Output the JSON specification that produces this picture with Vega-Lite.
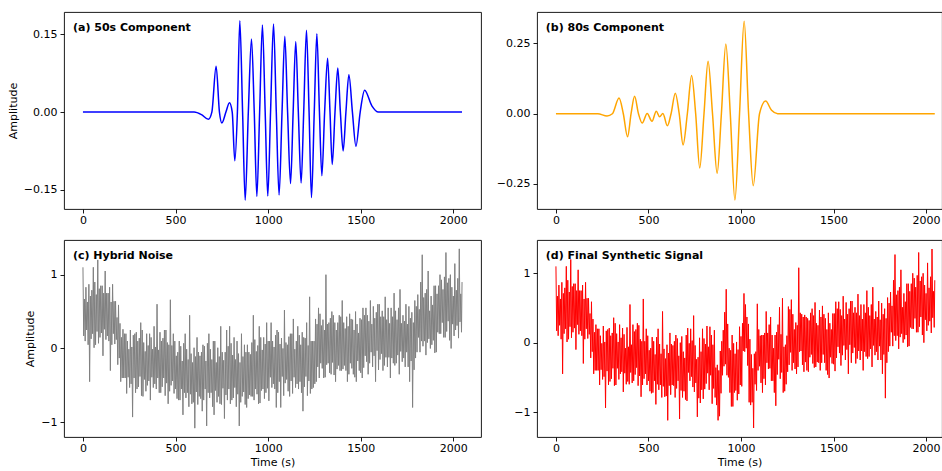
{
"$schema": "https://vega.github.io/schema/vega-lite/v6.json",
"padding": {"left": 6, "top": 11, "right": 0, "bottom": 0},
"background": "white",
"columns": 2,
"spacing": {"row": 13, "column": 13},
"datasets": {
"a": [
{"t":0,"v":0},{"t":600,"v":0},{"t":640,"v":-0.005},{"t":677,"v":-0.014},{"t":696,"v":0},{"t":719,"v":0.0885},{"t":737,"v":0},{"t":750,"v":-0.021},{"t":772,"v":0},{"t":791,"v":0.018},{"t":806,"v":0},{"t":820,"v":-0.094},{"t":834,"v":0},{"t":847,"v":0.176},{"t":862,"v":0},{"t":876,"v":-0.17},{"t":893,"v":0},{"t":910,"v":0.141},{"t":925,"v":0},{"t":939,"v":-0.163},{"t":954,"v":0},{"t":969,"v":0.168},{"t":984,"v":0},{"t":998,"v":-0.162},{"t":1013,"v":0},{"t":1029,"v":0.17},{"t":1044,"v":0},{"t":1059,"v":-0.16},{"t":1075,"v":0},{"t":1090,"v":0.146},{"t":1105,"v":0},{"t":1121,"v":-0.138},{"t":1135,"v":0},{"t":1149,"v":0.136},{"t":1163,"v":0},{"t":1178,"v":-0.137},{"t":1192,"v":0},{"t":1207,"v":0.158},{"t":1221,"v":0},{"t":1234,"v":-0.165},{"t":1249,"v":0},{"t":1263,"v":0.151},{"t":1277,"v":0},{"t":1290,"v":-0.123},{"t":1305,"v":0},{"t":1321,"v":0.104},{"t":1334,"v":0},{"t":1346,"v":-0.101},{"t":1361,"v":0},{"t":1376,"v":0.085},{"t":1390,"v":0},{"t":1405,"v":-0.075},{"t":1420,"v":0},{"t":1436,"v":0.072},{"t":1455,"v":0},{"t":1474,"v":-0.066},{"t":1497,"v":0},{"t":1521,"v":0.042},{"t":1560,"v":0.012},{"t":1595,"v":0},{"t":2047,"v":0}
],
"b": [
{"t":0,"v":0},{"t":226,"v":0},{"t":276,"v":-0.008},{"t":305,"v":0},{"t":341,"v":0.056},{"t":364,"v":0},{"t":387,"v":-0.082},{"t":406,"v":0},{"t":425,"v":0.062},{"t":446,"v":0},{"t":466,"v":-0.033},{"t":493,"v":0.001},{"t":519,"v":-0.027},{"t":542,"v":0.009},{"t":560,"v":-0.011},{"t":578,"v":0.001},{"t":602,"v":-0.043},{"t":622,"v":0},{"t":645,"v":0.073},{"t":666,"v":0},{"t":687,"v":-0.111},{"t":710,"v":0},{"t":733,"v":0.136},{"t":755,"v":0},{"t":777,"v":-0.193},{"t":800,"v":0},{"t":822,"v":0.187},{"t":846,"v":0},{"t":871,"v":-0.212},{"t":894,"v":0},{"t":918,"v":0.248},{"t":942,"v":0},{"t":967,"v":-0.307},{"t":992,"v":0},{"t":1017,"v":0.329},{"t":1041,"v":0},{"t":1066,"v":-0.256},{"t":1100,"v":0},{"t":1133,"v":0.045},{"t":1165,"v":0.012},{"t":1198,"v":0},{"t":2047,"v":0}
],
"noise": [
{"t":0,"c":1.1,"d":1.1},{"t":4,"c":0.17,"d":0.17},{"t":8,"c":0.67,"d":0.67},{"t":12,"c":0.1,"d":0.1},{"t":16,"c":0.83,"d":0.83},{"t":20,"c":0.25,"d":0.25},{"t":24,"c":0.63,"d":0.63},{"t":28,"c":0.05,"d":0.05},
{"t":32,"c":0.87,"d":0.87},{"t":36,"c":-0.45,"d":-0.45},{"t":40,"c":0.71,"d":0.71},{"t":44,"c":0.13,"d":0.13},{"t":48,"c":0.79,"d":0.79},{"t":52,"c":0.2,"d":0.2},{"t":56,"c":1.1,"d":1.1},{"t":60,"c":0.01,"d":0.01},
{"t":64,"c":0.9,"d":0.9},{"t":68,"c":0.05,"d":0.05},{"t":72,"c":0.73,"d":0.73},{"t":76,"c":0.23,"d":0.23},{"t":80,"c":1.2,"d":1.2},{"t":84,"c":0.07,"d":0.07},{"t":88,"c":0.81,"d":0.81},{"t":92,"c":0.15,"d":0.15},
{"t":96,"c":0.85,"d":0.85},{"t":100,"c":0.21,"d":0.21},{"t":104,"c":0.85,"d":0.85},{"t":108,"c":-0.1,"d":-0.1},{"t":112,"c":0.75,"d":0.75},{"t":116,"c":0.26,"d":0.26},{"t":120,"c":1.05,"d":1.05},{"t":124,"c":0.12,"d":0.12},
{"t":128,"c":0.75,"d":0.75},{"t":132,"c":0.17,"d":0.17},{"t":136,"c":0.75,"d":0.75},{"t":140,"c":0.1,"d":0.1},{"t":144,"c":0.83,"d":0.83},{"t":148,"c":-0.3,"d":-0.3},{"t":152,"c":0.63,"d":0.63},{"t":156,"c":0.05,"d":0.05},
{"t":160,"c":0.87,"d":0.87},{"t":164,"c":0.2,"d":0.2},{"t":168,"c":0.64,"d":0.64},{"t":172,"c":0.06,"d":0.06},{"t":176,"c":0.64,"d":0.64},{"t":180,"c":0.12,"d":0.12},{"t":184,"c":0.42,"d":0.42},{"t":188,"c":-0.22,"d":-0.22},
{"t":192,"c":0.59,"d":0.59},{"t":196,"c":-0.13,"d":-0.13},{"t":200,"c":0.34,"d":0.34},{"t":204,"c":-0.45,"d":-0.45},{"t":208,"c":0.15,"d":0.15},{"t":212,"c":-0.4,"d":-0.4},{"t":216,"c":0.26,"d":0.26},{"t":220,"c":-0.4,"d":-0.4},
{"t":224,"c":0.2,"d":0.2},{"t":228,"c":-0.4,"d":-0.4},{"t":232,"c":0.2,"d":0.2},{"t":236,"c":-0.61,"d":-0.61},{"t":240,"c":0.1,"d":0.1},{"t":244,"c":-0.39,"d":-0.39},{"t":248,"c":-0.01,"d":-0.01},{"t":252,"c":-0.53,"d":-0.53},
{"t":256,"c":0.25,"d":0.24},{"t":260,"c":-0.48,"d":-0.49},{"t":264,"c":0.02,"d":0.01},{"t":268,"c":-0.93,"d":-0.94},{"t":272,"c":0.18,"d":0.17},{"t":276,"c":-0.4,"d":-0.41},{"t":280,"c":0.2,"d":0.19},{"t":284,"c":-0.6,"d":-0.61},
{"t":288,"c":0.22,"d":0.21},{"t":292,"c":-0.55,"d":-0.56},{"t":296,"c":0.1,"d":0.1},{"t":300,"c":-0.52,"d":-0.52},{"t":304,"c":0.14,"d":0.14},{"t":308,"c":-0.38,"d":-0.37},{"t":312,"c":0.35,"d":0.36},{"t":316,"c":-0.64,"d":-0.62},
{"t":320,"c":0.25,"d":0.28},{"t":324,"c":-0.65,"d":-0.61},{"t":328,"c":0.08,"d":0.13},{"t":332,"c":-0.42,"d":-0.37},{"t":336,"c":-0.04,"d":0.01},{"t":340,"c":-0.58,"d":-0.53},{"t":344,"c":0.2,"d":0.26},{"t":348,"c":-0.5,"d":-0.45},
{"t":352,"c":0.04,"d":0.07},{"t":356,"c":-0.44,"d":-0.42},{"t":360,"c":0.2,"d":0.21},{"t":364,"c":-0.7,"d":-0.71},{"t":368,"c":0.15,"d":0.12},{"t":372,"c":-0.39,"d":-0.44},{"t":376,"c":-0.01,"d":-0.08},{"t":380,"c":-0.53,"d":-0.6},
{"t":384,"c":0.3,"d":0.22},{"t":388,"c":-0.48,"d":-0.56},{"t":392,"c":0.02,"d":-0.06},{"t":396,"c":-0.55,"d":-0.6},{"t":400,"c":0.6,"d":0.55},{"t":404,"c":-0.4,"d":-0.43},{"t":408,"c":-0.02,"d":-0.03},{"t":412,"c":-0.6,"d":-0.58},
{"t":416,"c":0.22,"d":0.26},{"t":420,"c":-0.6,"d":-0.55},{"t":424,"c":0.1,"d":0.16},{"t":428,"c":-0.52,"d":-0.46},{"t":432,"c":0.14,"d":0.19},{"t":436,"c":-0.4,"d":-0.36},{"t":440,"c":0.25,"d":0.28},{"t":444,"c":-0.64,"d":-0.62},
{"t":448,"c":0.25,"d":0.25},{"t":452,"c":-0.47,"d":-0.48},{"t":456,"c":0.08,"d":0.05},{"t":460,"c":-0.75,"d":-0.78},{"t":464,"c":0.05,"d":0.02},{"t":468,"c":-0.58,"d":-0.61},{"t":472,"c":0.66,"d":0.63},{"t":476,"c":-0.5,"d":-0.52},
{"t":480,"c":0.04,"d":0.02},{"t":484,"c":-0.44,"d":-0.45},{"t":488,"c":0.2,"d":0.2},{"t":492,"c":-0.61,"d":-0.61},{"t":496,"c":0.1,"d":0.1},{"t":500,"c":-0.55,"d":-0.55},{"t":504,"c":-0.1,"d":-0.11},{"t":508,"c":-0.68,"d":-0.7},
{"t":512,"c":-0.05,"d":-0.08},{"t":516,"c":-0.7,"d":-0.73},{"t":520,"c":0.1,"d":0.08},{"t":524,"c":-0.7,"d":-0.72},{"t":528,"c":0.03,"d":0.02},{"t":532,"c":-0.55,"d":-0.55},{"t":536,"c":-0.17,"d":-0.17},{"t":540,"c":-0.9,"d":-0.89},
{"t":544,"c":0.07,"d":0.08},{"t":548,"c":-0.6,"d":-0.6},{"t":552,"c":0.2,"d":0.2},{"t":556,"c":-0.67,"d":-0.68},{"t":560,"c":-0.01,"d":-0.02},{"t":564,"c":-0.6,"d":-0.61},{"t":568,"c":-0.15,"d":-0.16},{"t":572,"c":-0.79,"d":-0.79},
{"t":576,"c":0.45,"d":0.45},{"t":580,"c":-0.62,"d":-0.63},{"t":584,"c":-0.07,"d":-0.09},{"t":588,"c":-0.75,"d":-0.78},{"t":592,"c":-0.19,"d":-0.23},{"t":596,"c":-0.73,"d":-0.77},{"t":600,"c":0.01,"d":-0.03},{"t":604,"c":-1.08,"d":-1.12},
{"t":608,"c":-0.11,"d":-0.15},{"t":612,"c":-0.59,"d":-0.62},{"t":616,"c":0.15,"d":0.14},{"t":620,"c":-0.76,"d":-0.75},{"t":624,"c":-0.05,"d":-0.02},{"t":628,"c":-0.65,"d":-0.61},{"t":632,"c":-0.1,"d":-0.04},{"t":636,"c":-0.68,"d":-0.62},
{"t":640,"c":-0.05,"d":0.02},{"t":644,"c":-0.85,"d":-0.79},{"t":648,"c":0.05,"d":0.11},{"t":652,"c":-0.7,"d":-0.66},{"t":656,"c":0.03,"d":0.06},{"t":660,"c":-0.55,"d":-0.55},{"t":664,"c":-0.17,"d":-0.19},{"t":668,"c":-1.05,"d":-1.1},
{"t":672,"c":0.07,"d":0.0},{"t":676,"c":-0.6,"d":-0.69},{"t":680,"c":0.2,"d":0.09},{"t":684,"c":-0.67,"d":-0.79},{"t":688,"c":-0.01,"d":-0.13},{"t":692,"c":-0.6,"d":-0.7},{"t":696,"c":-0.15,"d":-0.22},{"t":700,"c":-0.79,"d":-0.82},
{"t":704,"c":0.1,"d":0.11},{"t":708,"c":-0.9,"d":-0.84},{"t":712,"c":0.1,"d":0.21},{"t":716,"c":-0.57,"d":-0.43},{"t":720,"c":-0.19,"d":-0.01},{"t":724,"c":-0.73,"d":-0.55},{"t":728,"c":0.01,"d":0.2},{"t":732,"c":-0.65,"d":-0.49},
{"t":736,"c":-0.11,"d":0.03},{"t":740,"c":-0.75,"d":-0.64},{"t":744,"c":0.3,"d":0.39},{"t":748,"c":-0.76,"d":-0.71},{"t":752,"c":-0.05,"d":-0.04},{"t":756,"c":-0.54,"d":-0.58},{"t":760,"c":-0.16,"d":-0.24},{"t":764,"c":-0.95,"d":-1.07},
{"t":768,"c":-0.05,"d":-0.21},{"t":772,"c":-0.63,"d":-0.8},{"t":776,"c":0.25,"d":0.07},{"t":780,"c":-0.7,"d":-0.87},{"t":784,"c":0.03,"d":-0.13},{"t":788,"c":-0.55,"d":-0.68},{"t":792,"c":0.3,"d":0.2},{"t":796,"c":-0.75,"d":-0.81},
{"t":800,"c":0.07,"d":0.06},{"t":804,"c":-0.7,"d":-0.67},{"t":808,"c":-0.09,"d":-0.02},{"t":812,"c":-0.67,"d":-0.59},{"t":816,"c":0.15,"d":0.24},{"t":820,"c":-0.53,"d":-0.44},{"t":824,"c":-0.15,"d":-0.06},{"t":828,"c":-0.79,"d":-0.68},
{"t":832,"c":0.1,"d":0.23},{"t":836,"c":-0.62,"d":-0.47},{"t":840,"c":-0.07,"d":0.11},{"t":844,"c":-1.05,"d":-0.88},{"t":848,"c":-0.19,"d":-0.03},{"t":852,"c":-0.73,"d":-0.66},{"t":856,"c":0.2,"d":0.18},{"t":860,"c":-0.65,"d":-0.79},
{"t":864,"c":-0.11,"d":-0.36},{"t":868,"c":-0.59,"d":-0.9},{"t":872,"c":0.05,"d":-0.32},{"t":876,"c":-0.76,"d":-1.12},{"t":880,"c":-0.05,"d":-0.4},{"t":884,"c":-0.8,"d":-1.06},{"t":888,"c":0.05,"d":-0.12},{"t":892,"c":-0.68,"d":-0.73},
{"t":896,"c":-0.05,"d":0.02},{"t":900,"c":-0.63,"d":-0.47},{"t":904,"c":-0.08,"d":0.18},{"t":908,"c":-0.65,"d":-0.34},{"t":912,"c":0.08,"d":0.44},{"t":916,"c":-0.65,"d":-0.31},{"t":920,"c":0.45,"d":0.77},{"t":924,"c":-0.7,"d":-0.47},
{"t":928,"c":0.12,"d":0.27},{"t":932,"c":-0.55,"d":-0.5},{"t":936,"c":-0.04,"d":-0.08},{"t":940,"c":-0.62,"d":-0.72},{"t":944,"c":0.04,"d":-0.11},{"t":948,"c":-0.75,"d":-0.92},{"t":952,"c":0.3,"d":0.11},{"t":956,"c":-0.74,"d":-0.92},
{"t":960,"c":0.15,"d":-0.01},{"t":964,"c":-0.57,"d":-0.72},{"t":968,"c":-0.02,"d":-0.16},{"t":972,"c":-0.55,"d":-0.69},{"t":976,"c":0.15,"d":0.01},{"t":980,"c":-0.68,"d":-0.83},{"t":984,"c":0.06,"d":-0.1},{"t":988,"c":-0.6,"d":-0.74},
{"t":992,"c":0.35,"d":0.23},{"t":996,"c":-0.54,"d":-0.61},{"t":1000,"c":0.1,"d":0.09},{"t":1004,"c":-0.71,"d":-0.63},{"t":1008,"c":0.1,"d":0.28},{"t":1012,"c":-0.39,"d":-0.12},{"t":1016,"c":0.35,"d":0.71},{"t":1020,"c":-0.53,"d":-0.13},
{"t":1024,"c":0.1,"d":0.55},{"t":1028,"c":-0.48,"d":-0.08},{"t":1032,"c":0.02,"d":0.37},{"t":1036,"c":-0.55,"d":-0.33},{"t":1040,"c":0.18,"d":0.27},{"t":1044,"c":-0.8,"d":-0.86},{"t":1048,"c":0.25,"d":0.05},{"t":1052,"c":-0.6,"d":-0.9},
{"t":1056,"c":0.22,"d":-0.17},{"t":1060,"c":-0.45,"d":-0.86},{"t":1064,"c":0.06,"d":-0.37},{"t":1068,"c":-0.8,"d":-1.23},{"t":1072,"c":0.14,"d":-0.16},{"t":1076,"c":-0.38,"d":-0.6},{"t":1080,"c":0.0,"d":-0.13},{"t":1084,"c":-0.64,"d":-0.69},
{"t":1088,"c":0.52,"d":0.56},{"t":1092,"c":-0.47,"d":-0.4},{"t":1096,"c":0.08,"d":0.19},{"t":1100,"c":-0.42,"d":-0.34},{"t":1104,"c":0.05,"d":0.1},{"t":1108,"c":-0.58,"d":-0.58},{"t":1112,"c":0.16,"d":0.11},{"t":1116,"c":-0.65,"d":-0.72},
{"t":1120,"c":0.2,"d":0.11},{"t":1124,"c":-0.44,"d":-0.52},{"t":1128,"c":0.2,"d":0.14},{"t":1132,"c":-0.61,"d":-0.61},{"t":1136,"c":0.4,"d":0.45},{"t":1140,"c":-0.39,"d":-0.29},{"t":1144,"c":-0.01,"d":0.14},{"t":1148,"c":-0.53,"d":-0.38},
{"t":1152,"c":0.1,"d":0.26},{"t":1156,"c":-0.48,"d":-0.37},{"t":1160,"c":0.3,"d":0.37},{"t":1164,"c":-0.55,"d":-0.55},{"t":1168,"c":0.18,"d":0.11},{"t":1172,"c":-0.45,"d":-0.55},{"t":1176,"c":0.05,"d":-0.08},{"t":1180,"c":-0.6,"d":-0.72},
{"t":1184,"c":0.22,"d":0.11},{"t":1188,"c":-0.85,"d":-0.91},{"t":1192,"c":0.15,"d":0.15},{"t":1196,"c":-0.52,"d":-0.46},{"t":1200,"c":0.14,"d":0.26},{"t":1204,"c":-0.38,"d":-0.24},{"t":1208,"c":0.35,"d":0.51},{"t":1212,"c":-0.64,"d":-0.52},
{"t":1216,"c":0.04,"d":0.12},{"t":1220,"c":-0.44,"d":-0.43},{"t":1224,"c":0.7,"d":0.64},{"t":1228,"c":-0.61,"d":-0.72},{"t":1232,"c":0.1,"d":-0.06},{"t":1236,"c":-0.55,"d":-0.7},{"t":1240,"c":0.1,"d":-0.03},{"t":1244,"c":-0.53,"d":-0.6},
{"t":1248,"c":0.1,"d":0.1},{"t":1252,"c":-0.48,"d":-0.42},{"t":1256,"c":0.4,"d":0.52},{"t":1260,"c":-0.45,"d":-0.32},{"t":1264,"c":0.33,"d":0.48},{"t":1268,"c":-0.25,"d":-0.14},{"t":1272,"c":0.55,"d":0.62},{"t":1276,"c":-0.4,"d":-0.4},
{"t":1280,"c":0.47,"d":0.41},{"t":1284,"c":-0.2,"d":-0.29},{"t":1288,"c":0.31,"d":0.19},{"t":1292,"c":-0.27,"d":-0.38},{"t":1296,"c":0.39,"d":0.29},{"t":1300,"c":-0.4,"d":-0.45},{"t":1304,"c":0.25,"d":0.25},{"t":1308,"c":-0.39,"d":-0.35},
{"t":1312,"c":1.0,"d":1.08},{"t":1316,"c":-0.22,"d":-0.13},{"t":1320,"c":0.33,"d":0.43},{"t":1324,"c":-0.2,"d":-0.12},{"t":1328,"c":0.35,"d":0.41},{"t":1332,"c":-0.33,"d":-0.32},{"t":1336,"c":0.41,"d":0.37},{"t":1340,"c":-0.35,"d":-0.42},
{"t":1344,"c":0.5,"d":0.4},{"t":1348,"c":-0.19,"d":-0.28},{"t":1352,"c":0.45,"d":0.37},{"t":1356,"c":-0.36,"d":-0.4},{"t":1360,"c":0.35,"d":0.35},{"t":1364,"c":-0.45,"d":-0.42},{"t":1368,"c":0.25,"d":0.32},{"t":1372,"c":-0.28,"d":-0.21},
{"t":1376,"c":0.35,"d":0.43},{"t":1380,"c":-0.23,"d":-0.17},{"t":1384,"c":0.45,"d":0.49},{"t":1388,"c":-0.3,"d":-0.3},{"t":1392,"c":0.43,"d":0.39},{"t":1396,"c":-0.3,"d":-0.36},{"t":1400,"c":0.65,"d":0.58},{"t":1404,"c":-0.28,"d":-0.35},
{"t":1408,"c":0.35,"d":0.28},{"t":1412,"c":-0.23,"d":-0.28},{"t":1416,"c":0.27,"d":0.25},{"t":1420,"c":-0.3,"d":-0.29},{"t":1424,"c":0.43,"d":0.47},{"t":1428,"c":-0.45,"d":-0.4},{"t":1432,"c":0.3,"d":0.37},{"t":1436,"c":-0.35,"d":-0.29},
{"t":1440,"c":0.47,"d":0.53},{"t":1444,"c":-0.2,"d":-0.17},{"t":1448,"c":0.4,"d":0.41},{"t":1452,"c":-0.27,"d":-0.29},{"t":1456,"c":0.39,"d":0.35},{"t":1460,"c":-0.35,"d":-0.4},{"t":1464,"c":0.25,"d":0.19},{"t":1468,"c":-0.39,"d":-0.46},
{"t":1472,"c":0.5,"d":0.43},{"t":1476,"c":-0.45,"d":-0.51},{"t":1480,"c":0.33,"d":0.28},{"t":1484,"c":-0.17,"d":-0.21},{"t":1488,"c":0.21,"d":0.19},{"t":1492,"c":-0.3,"d":-0.3},{"t":1496,"c":0.41,"d":0.42},{"t":1500,"c":-0.33,"d":-0.31},
{"t":1504,"c":0.39,"d":0.42},{"t":1508,"c":-0.4,"d":-0.41},{"t":1512,"c":0.55,"d":0.59},{"t":1516,"c":-0.26,"d":-0.22},{"t":1520,"c":0.45,"d":0.49},{"t":1524,"c":-0.1,"d":-0.06},{"t":1528,"c":0.55,"d":0.59},{"t":1532,"c":-0.18,"d":-0.15},
{"t":1536,"c":0.45,"d":0.48},{"t":1540,"c":-0.35,"d":-0.33},{"t":1544,"c":0.37,"d":0.39},{"t":1548,"c":-0.2,"d":-0.18},{"t":1552,"c":0.65,"d":0.67},{"t":1556,"c":-0.05,"d":-0.04},{"t":1560,"c":0.33,"d":0.34},{"t":1564,"c":-0.25,"d":-0.25},
{"t":1568,"c":0.57,"d":0.58},{"t":1572,"c":-0.1,"d":-0.1},{"t":1576,"c":0.41,"d":0.41},{"t":1580,"c":-0.45,"d":-0.45},{"t":1584,"c":0.49,"d":0.49},{"t":1588,"c":-0.03,"d":-0.03},{"t":1592,"c":0.6,"d":0.6},{"t":1596,"c":-0.29,"d":-0.29},
{"t":1600,"c":0.6,"d":0.6},{"t":1604,"c":-0.15,"d":-0.15},{"t":1608,"c":0.43,"d":0.43},{"t":1612,"c":-0.07,"d":-0.07},{"t":1616,"c":0.51,"d":0.51},{"t":1620,"c":-0.3,"d":-0.3},{"t":1624,"c":0.43,"d":0.43},{"t":1628,"c":-0.23,"d":-0.23},
{"t":1632,"c":0.7,"d":0.7},{"t":1636,"c":-0.12,"d":-0.12},{"t":1640,"c":0.39,"d":0.39},{"t":1644,"c":-0.25,"d":-0.25},{"t":1648,"c":0.55,"d":0.55},{"t":1652,"c":-0.12,"d":-0.12},{"t":1656,"c":0.34,"d":0.34},{"t":1660,"c":-0.4,"d":-0.4},
{"t":1664,"c":0.55,"d":0.55},{"t":1668,"c":-0.13,"d":-0.13},{"t":1672,"c":0.43,"d":0.43},{"t":1676,"c":-0.2,"d":-0.2},{"t":1680,"c":0.75,"d":0.75},{"t":1684,"c":-0.23,"d":-0.23},{"t":1688,"c":0.51,"d":0.51},{"t":1692,"c":-0.2,"d":-0.2},
{"t":1696,"c":0.39,"d":0.39},{"t":1700,"c":-0.09,"d":-0.09},{"t":1704,"c":0.55,"d":0.55},{"t":1708,"c":-0.35,"d":-0.35},{"t":1712,"c":0.8,"d":0.8},{"t":1716,"c":-0.04,"d":-0.04},{"t":1720,"c":0.34,"d":0.34},{"t":1724,"c":-0.18,"d":-0.18},
{"t":1728,"c":0.45,"d":0.45},{"t":1732,"c":-0.13,"d":-0.13},{"t":1736,"c":0.37,"d":0.37},{"t":1740,"c":-0.25,"d":-0.25},{"t":1744,"c":0.6,"d":0.6},{"t":1748,"c":-0.05,"d":-0.05},{"t":1752,"c":0.33,"d":0.33},{"t":1756,"c":-0.25,"d":-0.25},
{"t":1760,"c":0.57,"d":0.57},{"t":1764,"c":-0.45,"d":-0.45},{"t":1768,"c":0.41,"d":0.41},{"t":1772,"c":-0.17,"d":-0.17},{"t":1776,"c":0.49,"d":0.49},{"t":1780,"c":-0.8,"d":-0.8},{"t":1784,"c":0.35,"d":0.35},{"t":1788,"c":-0.29,"d":-0.29},
{"t":1792,"c":0.65,"d":0.65},{"t":1796,"c":-0.13,"d":-0.13},{"t":1800,"c":0.57,"d":0.57},{"t":1804,"c":-0.05,"d":-0.05},{"t":1808,"c":0.73,"d":0.73},{"t":1812,"c":0.15,"d":0.15},{"t":1816,"c":0.53,"d":0.53},{"t":1820,"c":-0.05,"d":-0.05},
{"t":1824,"c":0.9,"d":0.9},{"t":1828,"c":0.1,"d":0.1},{"t":1832,"c":1.27,"d":1.27},{"t":1836,"c":0.03,"d":0.03},{"t":1840,"c":0.69,"d":0.69},{"t":1844,"c":0.1,"d":0.1},{"t":1848,"c":0.75,"d":0.75},{"t":1852,"c":-0.09,"d":-0.09},
{"t":1856,"c":0.8,"d":0.8},{"t":1860,"c":0.08,"d":0.08},{"t":1864,"c":1.05,"d":1.05},{"t":1868,"c":0.13,"d":0.13},{"t":1872,"c":0.51,"d":0.51},{"t":1876,"c":0.0,"d":0.0},{"t":1880,"c":0.71,"d":0.71},{"t":1884,"c":0.05,"d":0.05},
{"t":1888,"c":0.59,"d":0.59},{"t":1892,"c":0.11,"d":0.11},{"t":1896,"c":0.85,"d":0.85},{"t":1900,"c":-0.06,"d":-0.06},{"t":1904,"c":0.85,"d":0.85},{"t":1908,"c":-0.05,"d":-0.05},{"t":1912,"c":0.74,"d":0.74},{"t":1916,"c":0.22,"d":0.22},
{"t":1920,"c":0.85,"d":0.85},{"t":1924,"c":0.2,"d":0.2},{"t":1928,"c":1.0,"d":1.0},{"t":1932,"c":0.2,"d":0.2},{"t":1936,"c":0.93,"d":0.93},{"t":1940,"c":0.35,"d":0.35},{"t":1944,"c":0.8,"d":0.8},{"t":1948,"c":0.15,"d":0.15},
{"t":1952,"c":0.97,"d":0.97},{"t":1956,"c":0.15,"d":0.15},{"t":1960,"c":1.3,"d":1.3},{"t":1964,"c":0.23,"d":0.23},{"t":1968,"c":0.89,"d":0.89},{"t":1972,"c":0.37,"d":0.37},{"t":1976,"c":0.95,"d":0.95},{"t":1980,"c":0.11,"d":0.11},
{"t":1984,"c":1.0,"d":1.0},{"t":1988,"c":0.0,"d":0.0},{"t":1992,"c":0.83,"d":0.83},{"t":1996,"c":0.33,"d":0.33},{"t":2000,"c":0.71,"d":0.71},{"t":2004,"c":0.17,"d":0.17},{"t":2008,"c":1.15,"d":1.15},{"t":2012,"c":0.25,"d":0.25},
{"t":2016,"c":0.79,"d":0.79},{"t":2020,"c":0.31,"d":0.31},{"t":2024,"c":0.95,"d":0.95},{"t":2028,"c":0.14,"d":0.14},{"t":2032,"c":1.35,"d":1.35},{"t":2036,"c":0.36,"d":0.36},{"t":2040,"c":0.74,"d":0.74},{"t":2044,"c":0.22,"d":0.22},
{"t":2047,"c":0.9,"d":0.9}
]
},
"concat": [
{
"width": 417, "height": 197,
"layer": [
{"data": {"name": "a"}, "mark": {"type": "line", "color": "#0000ff", "strokeWidth": 1.5, "interpolate": "monotone"},
"encoding": {
"x": {"field": "t", "type": "quantitative", "scale": {"domain": [-102.35, 2149.35], "nice": false, "zero": false}, "axis": {"values": [0, 500, 1000, 1500, 2000], "format": "d", "title": null}},
"y": {"field": "v", "type": "quantitative", "scale": {"domain": [-0.187, 0.193], "nice": false, "zero": false}, "axis": {"values": [-0.15, 0, 0.15], "format": ".2f", "title": "Amplitude"}}
}},
{"data": {"values": [{"label": "(a) 50s Component"}]}, "mark": {"type": "text", "align": "left", "baseline": "middle"},
"encoding": {"x": {"datum": -54}, "y": {"datum": 0.162}, "text": {"field": "label"}}}
]
},
{
"width": 405, "height": 197,
"layer": [
{"data": {"name": "b"}, "mark": {"type": "line", "color": "#ffa500", "strokeWidth": 1.5, "interpolate": "monotone"},
"encoding": {
"x": {"field": "t", "type": "quantitative", "scale": {"domain": [-102.35, 2086], "nice": false, "zero": false}, "axis": {"values": [0, 500, 1000, 1500, 2000], "format": "d", "title": null}},
"y": {"field": "v", "type": "quantitative", "scale": {"domain": [-0.339, 0.362], "nice": false, "zero": false}, "axis": {"values": [-0.25, 0, 0.25], "format": ".2f", "title": null}}
}},
{"data": {"values": [{"label": "(b) 80s Component"}]}, "mark": {"type": "text", "align": "left", "baseline": "middle"},
"encoding": {"x": {"datum": -55}, "y": {"datum": 0.305}, "text": {"field": "label"}}}
]
},
{
"width": 417, "height": 197,
"layer": [
{"data": {"name": "noise"}, "mark": {"type": "line", "color": "#808080", "strokeWidth": 1.0},
"encoding": {
"x": {"field": "t", "type": "quantitative", "scale": {"domain": [-102.35, 2149.35], "nice": false, "zero": false}, "axis": {"values": [0, 500, 1000, 1500, 2000], "format": "d", "title": "Time (s)"}},
"y": {"field": "c", "type": "quantitative", "scale": {"domain": [-1.2, 1.47], "nice": false, "zero": false}, "axis": {"values": [-1, 0, 1], "format": "d", "title": "Amplitude"}}
}},
{"data": {"values": [{"label": "(c) Hybrid Noise"}]}, "mark": {"type": "text", "align": "left", "baseline": "middle"},
"encoding": {"x": {"datum": -54}, "y": {"datum": 1.248}, "text": {"field": "label"}}}
]
},
{
"width": 405, "height": 197,
"layer": [
{"data": {"name": "noise"}, "mark": {"type": "line", "color": "#ff0000", "strokeWidth": 1.0},
"encoding": {
"x": {"field": "t", "type": "quantitative", "scale": {"domain": [-102.35, 2086], "nice": false, "zero": false}, "axis": {"values": [0, 500, 1000, 1500, 2000], "format": "d", "title": "Time (s)"}},
"y": {"field": "d", "type": "quantitative", "scale": {"domain": [-1.36, 1.48], "nice": false, "zero": false}, "axis": {"values": [-1, 0, 1], "format": "d", "title": null}}
}},
{"data": {"values": [{"label": "(d) Final Synthetic Signal"}]}, "mark": {"type": "text", "align": "left", "baseline": "middle"},
"encoding": {"x": {"datum": -55}, "y": {"datum": 1.244}, "text": {"field": "label"}}}
]
}
],
"config": {
"view": {"stroke": "#000", "strokeWidth": 0.9},
"axis": {"grid": false, "domain": false, "tickColor": "#000", "tickSize": 4, "tickWidth": 0.9, "labelFont": "DejaVu Sans", "labelFontSize": 11, "labelColor": "#000", "labelPadding": 3, "labelFlush": false, "titleFont": "DejaVu Sans", "titleFontSize": 11, "titleFontWeight": "normal", "titleColor": "#000", "titlePadding": 5},
"axisX": {"labelPadding": 1.5, "titlePadding": 3},
"text": {"font": "DejaVu Sans", "fontWeight": "bold", "fontSize": 11, "color": "#000"}
}
}
